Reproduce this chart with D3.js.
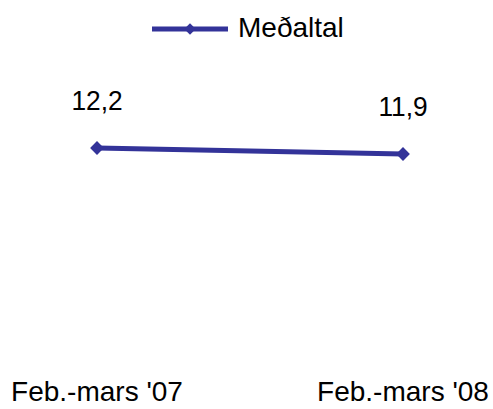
<!DOCTYPE html>
<head>
  <meta charset="utf-8" />
  <title>Meðaltal</title>
  <style>
    body { margin: 0; background: #fff; }
    text { font-family: "Liberation Sans", Arial, sans-serif; fill: #000; }
  </style>
</head>
<body>
  <script src="https://cdn.jsdelivr.net/npm/d3@7"></script>
  <script>
    var categories = ["Feb.-mars '07", "Feb.-mars '08"];
    var values = [12.2, 11.9];
    var seriesName = "Meðaltal";

    var width = 493, height = 409;
    var color = "#333399";
    var fmt = function (v) { return d3.format(".1f")(v).replace(".", ","); };

    var svg = d3.select("body").append("svg")
      .attr("width", width).attr("height", height);

    var x = d3.scalePoint().domain(categories).range([97, 403]);
    var y = d3.scaleLinear().domain([0, 16]).range([392, 72]);

    var line = d3.line()
      .x(function (d, i) { return x(categories[i]); })
      .y(function (d) { return y(d); });

    svg.append("path")
      .datum(values)
      .attr("d", line)
      .attr("fill", "none")
      .attr("stroke", color)
      .attr("stroke-width", 5);

    // square turned 45deg = excel style diamond
    var marker = d3.symbol().type(d3.symbolSquare).size(95);
    var legendMarker = d3.symbol().type(d3.symbolSquare).size(65);

    svg.selectAll("path.pt")
      .data(values)
      .enter().append("path")
      .attr("class", "pt")
      .attr("d", marker)
      .attr("transform", function (d, i) { return "translate(" + x(categories[i]) + "," + y(d) + ") rotate(45)"; })
      .attr("fill", color);

    // value labels, slightly condensed
    svg.selectAll("text.val")
      .data(values)
      .enter().append("text")
      .attr("class", "val")
      .attr("transform", function (d, i) {
        return "translate(" + x(categories[i]) + "," + (y(d) - 38) + ") scale(0.94,1)";
      })
      .attr("text-anchor", "middle")
      .attr("font-size", 28)
      .text(fmt);

    svg.selectAll("text.cat")
      .data(categories)
      .enter().append("text")
      .attr("class", "cat")
      .attr("x", function (d) { return x(d); })
      .attr("y", 401)
      .attr("text-anchor", "middle")
      .attr("font-size", 28)
      .text(function (d) { return d; });

    // legend
    var lg = svg.append("g").attr("transform", "translate(152,29)");
    lg.append("line").attr("x1", 0).attr("x2", 76).attr("y1", 0).attr("y2", 0)
      .attr("stroke", color).attr("stroke-width", 5);
    lg.append("path").attr("d", legendMarker).attr("transform", "translate(38,0) rotate(45)").attr("fill", color);
    lg.append("text").attr("x", 86).attr("y", 37 - 29).attr("font-size", 28).text(seriesName);
  </script>
</body>
